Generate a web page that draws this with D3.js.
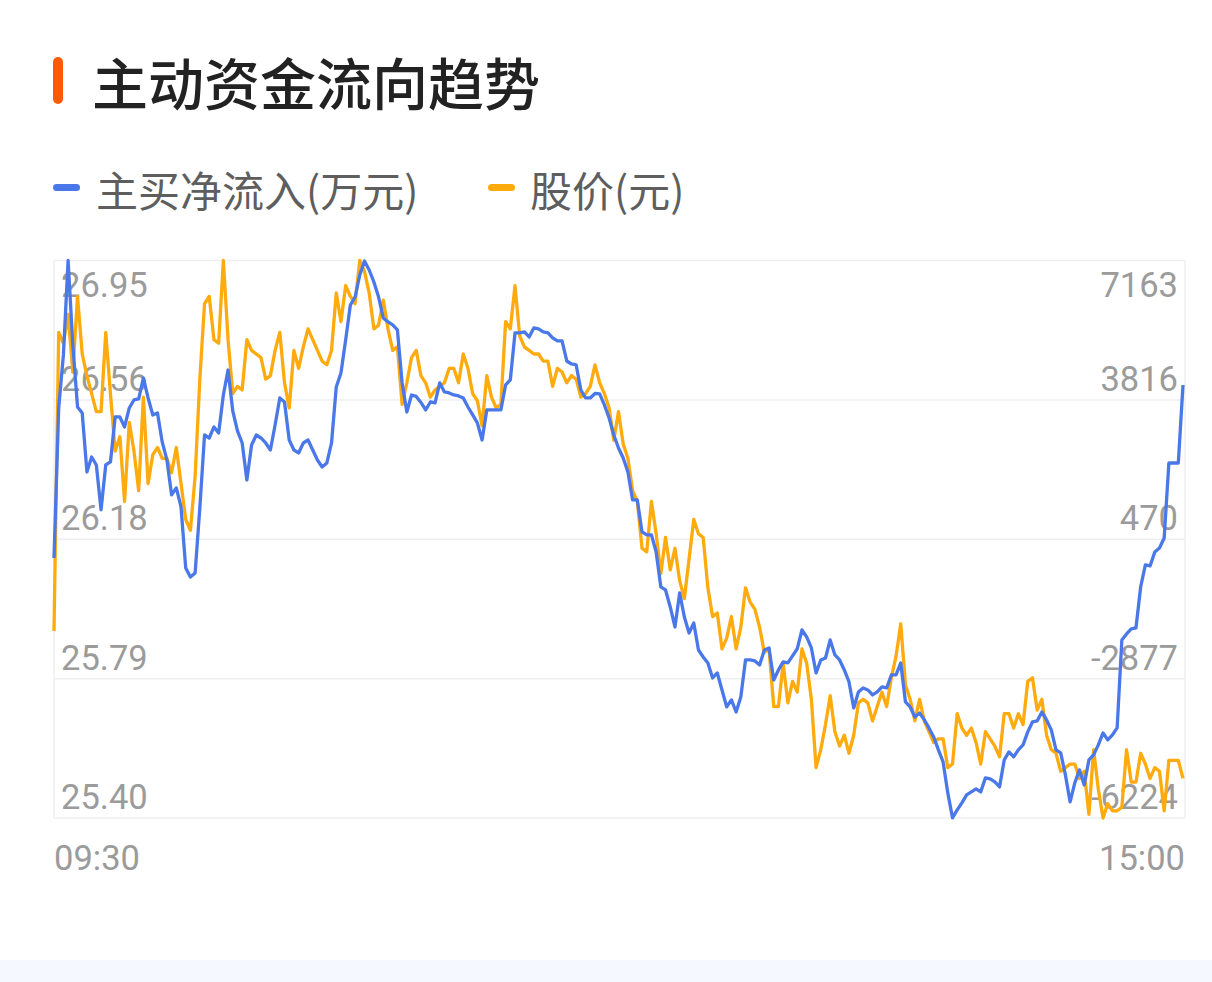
<!DOCTYPE html>
<html>
<head>
<meta charset="utf-8">
<script src="https://cdn.jsdelivr.net/npm/d3@7"></script>
<style>
  html, body { margin: 0; padding: 0; background: #ffffff; }
  svg { display: block; }
</style>
</head>
<body>
<svg id="chart" width="1212" height="982"></svg>
<script>
// ---------------- data ----------------
const title = "主动资金流向趋势";
const seriesNames = ["主买净流入(万元)", "股价(元)"];
const timeLabels = ["09:30", "15:00"];
const priceTicks = ["26.95", "26.56", "26.18", "25.79", "25.40"];
const flowTicks = ["7163", "3816", "470", "-2877", "-6224"];

// 主买净流入 (万元), one value per minute
const netInflow = [
  20, 3622, 4895, 7163, 5135, 3646, 3500, 2085, 2445, 2253,
  1173, 2253, 2325, 3406, 3406, 3166, 3622, 3814, 3838, 4340,
  3862, 3454, 3502, 2806, 2374, 1534, 1702, 1245, -220, -437,
  -340, 1222, 2973, 2901, 3166, 3021, 3934, 4533, 3550, 3070,
  2781, 1893, 2733, 2973, 2901, 2781, 2613, 3214, 3862, 3766,
  2853, 2613, 2541, 2781, 2853, 2613, 2373, 2205, 2301, 2781,
  4126, 4462, 5254, 6094, 6286, 6815, 7150, 6935, 6647, 6286,
  5783, 5687, 5615, 5495, 4222, 3526, 3934, 3900, 3754, 3574,
  3766,
  3742, 4222, 4006, 3982, 3934, 3910, 3862, 3646, 3454, 3262,
  2853, 3574, 3574, 3574, 3574, 4174, 4294, 5423, 5423, 5447,
  5327, 5543, 5519, 5447, 5423, 5303, 5231, 5231, 4750, 4678,
  4654, 4054, 3862, 3862, 3970, 3958,
  3694, 3382, 2973, 2661, 2421, 2085, 1413, 1413, 645, 573,
  573, 165, -676, -748, -1157, -1637, -820, -1397, -1781, -1541,
  -2189, -2357, -2501, -2861, -2741, -3149, -3557, -3389, -3677, -3317,
  -2429, -2429, -2453, -2549, -2189, -2141, -2909, -2669, -2477, -2501,
  -2330, -2160,
  -1709, -1877, -2141, -2741, -2429, -2381, -1949, -2309, -2429, -2669,
  -2957, -3581, -3197, -3101, -3149, -3269, -3197, -3077, -3101, -2789,
  -2789, -2501, -3437, -3557, -3797, -3701, -3869, -4061, -4277, -4589,
  -4877, -5621, -6221, -6029, -5861, -5669, -5597, -5525, -5597, -5261,
  -5285, -5357, -5477, -4829, -4637, -4757, -4589, -4469, -4157, -3917,
  -3893, -3677, -3869, -4109, -4589, -4661, -5189, -5837, -5381, -5069,
  -5429, -4829, -4709, -4469, -4181, -4349, -4229, -4061, -1949, -1805,
  -1685, -1661, -676, -148, -172, 165, 261, 501, 2301, 2301,
  2301, 4174
];

// 股价 (元), one value per minute
const price = [
  25.92, 26.75, 26.72, 26.80, 26.64, 26.85, 26.69, 26.63, 26.58, 26.53,
  26.53, 26.75, 26.58, 26.42, 26.46, 26.28, 26.50, 26.42, 26.31, 26.57,
  26.33, 26.41, 26.43, 26.40, 26.40, 26.36, 26.43, 26.33, 26.23, 26.20,
  26.35, 26.62, 26.83, 26.85, 26.73, 26.72, 26.95, 26.73, 26.58,
  26.60, 26.59, 26.73, 26.70, 26.69, 26.68, 26.62, 26.63, 26.70, 26.75,
  26.61, 26.54, 26.70, 26.65, 26.71, 26.76, 26.73, 26.70, 26.67, 26.66,
  26.70, 26.86, 26.78, 26.88, 26.85, 26.83, 26.95, 26.92, 26.86, 26.76,
  26.77, 26.84, 26.76, 26.70, 26.71, 26.55, 26.61, 26.68, 26.70, 26.63,
  26.61, 26.57,
  26.59, 26.60, 26.61, 26.65, 26.65, 26.61, 26.69, 26.65, 26.58, 26.56,
  26.49, 26.63, 26.57, 26.54, 26.55, 26.78, 26.76, 26.88, 26.74, 26.71,
  26.70, 26.69, 26.69, 26.67, 26.67, 26.60, 26.65, 26.64, 26.61, 26.63,
  26.62, 26.57, 26.58, 26.60, 26.66, 26.61,
  26.58, 26.54, 26.45, 26.53, 26.44, 26.40, 26.31, 26.28, 26.15, 26.14,
  26.28, 26.19, 26.08, 26.18, 26.09, 26.15, 26.06, 26.01, 26.12, 26.23,
  26.19, 26.18, 26.04, 25.96, 25.97, 25.87, 25.90, 25.96, 25.87, 25.93,
  26.04, 26.00, 25.98, 25.93, 25.86, 25.87, 25.71, 25.71, 25.83, 25.72,
  25.78, 25.75,
  25.87, 25.83, 25.73, 25.54, 25.59, 25.66, 25.74, 25.64, 25.60, 25.63,
  25.58, 25.63, 25.72, 25.73, 25.72, 25.67, 25.71, 25.75, 25.71, 25.79,
  25.85, 25.94, 25.77, 25.73, 25.67, 25.73, 25.67, 25.64, 25.61, 25.62,
  25.62, 25.54, 25.55, 25.69, 25.65, 25.63, 25.65, 25.61, 25.55, 25.64,
  25.62, 25.60, 25.57, 25.69, 25.69, 25.65, 25.69, 25.66, 25.78, 25.79,
  25.70, 25.73, 25.63, 25.59, 25.58, 25.53, 25.54, 25.55, 25.55, 25.51,
  25.53, 25.41, 25.59, 25.48, 25.40, 25.44, 25.42, 25.42, 25.43, 25.59,
  25.50, 25.50, 25.58, 25.55, 25.51, 25.54, 25.53, 25.42, 25.56, 25.56,
  25.56, 25.51
];

// ---------------- layout & style ----------------
const W = 1212, H = 982;
const plot = { left: 54, right: 1185, top: 260.5, bottom: 818 };
const lineEnd = 1183;
const colors = { flow: "#4A78E8", price: "#FFAA0D", accent: "#FF5A0A",
                 grid: "#EFEFEF", axisText: "#9B9B9B", legendText: "#5E5E5E", title: "#222222" };
const numFont = "Roboto, 'Noto Sans', sans-serif";
const cjkFont = "'Noto Sans CJK SC', 'Noto Sans', sans-serif";

const svg = d3.select("#chart");

svg.append("rect").attr("x", 0).attr("y", 0).attr("width", W).attr("height", H).attr("fill", "#fff");
// bottom band
svg.append("rect").attr("x", 0).attr("y", 960).attr("width", W).attr("height", H - 960).attr("fill", "#F5F8FE");

// title
svg.append("rect").attr("x", 53).attr("y", 57).attr("width", 10).attr("height", 47).attr("rx", 5)
  .attr("fill", colors.accent);
svg.append("text").attr("x", 92).attr("y", 105)
  .attr("font-family", cjkFont).attr("font-size", 56).attr("font-weight", 500)
  .attr("fill", colors.title).text(title);

// legend
const legendItems = [
  { name: seriesNames[0], color: colors.flow, mx: 53, tx: 96 },
  { name: seriesNames[1], color: colors.price, mx: 488, tx: 530 }
];
const lg = svg.append("g");
legendItems.forEach(d => {
  lg.append("rect").attr("x", d.mx).attr("y", 184).attr("width", 27).attr("height", 7).attr("rx", 3.5)
    .attr("fill", d.color);
  lg.append("text").attr("x", d.tx).attr("y", 207)
    .attr("font-family", cjkFont).attr("font-size", 42).attr("fill", colors.legendText).text(d.name);
});

// scales
const n = price.length;
const x = d3.scaleLinear().domain([0, n - 1]).range([plot.left, lineEnd]);
const yPrice = d3.scaleLinear().domain([+priceTicks[priceTicks.length - 1], +priceTicks[0]])
  .range([plot.bottom, plot.top]);
const yFlow = d3.scaleLinear().domain([+flowTicks[flowTicks.length - 1], +flowTicks[0]])
  .range([plot.bottom, plot.top]);
const tickFrac = d3.range(priceTicks.length).map(i => i / (priceTicks.length - 1));
const gridY = tickFrac.map(f => plot.top + f * (plot.bottom - plot.top));

// frame + grid
const grid = svg.append("g");
gridY.forEach(gy => {
  grid.append("line").attr("x1", plot.left).attr("x2", plot.right).attr("y1", gy).attr("y2", gy)
    .attr("stroke", colors.grid).attr("stroke-width", 1.5);
});
grid.append("line").attr("x1", plot.left).attr("x2", plot.left).attr("y1", plot.top).attr("y2", plot.bottom)
  .attr("stroke", colors.grid).attr("stroke-width", 1.5);
grid.append("line").attr("x1", plot.right).attr("x2", plot.right).attr("y1", plot.top).attr("y2", plot.bottom)
  .attr("stroke", colors.grid).attr("stroke-width", 1.5);

// axis labels (drawn under the lines)
const labelY = (i) => i === 0 ? gridY[0] + 36.5 : gridY[i] - 9;
const al = svg.append("g").attr("font-family", numFont).attr("font-size", 34.5).attr("fill", colors.axisText);
priceTicks.forEach((t, i) => {
  al.append("text").attr("x", 61).attr("y", labelY(i)).text(t);
});
flowTicks.forEach((t, i) => {
  al.append("text").attr("x", 1178).attr("y", labelY(i)).attr("text-anchor", "end").text(t);
});
al.append("text").attr("x", plot.left).attr("y", 870).text(timeLabels[0]);
al.append("text").attr("x", plot.right).attr("y", 870).attr("text-anchor", "end").text(timeLabels[1]);

// lines
const priceLine = d3.line().x((d, i) => x(i)).y(d => yPrice(d));
const flowLine = d3.line().x((d, i) => x(i)).y(d => yFlow(d));

svg.append("path").datum(price).attr("d", priceLine).attr("fill", "none")
  .attr("stroke", colors.price).attr("stroke-width", 3.3).attr("stroke-linejoin", "round");
svg.append("path").datum(netInflow).attr("d", flowLine).attr("fill", "none")
  .attr("stroke", colors.flow).attr("stroke-width", 3.3).attr("stroke-linejoin", "round");
</script>
</body>
</html>
